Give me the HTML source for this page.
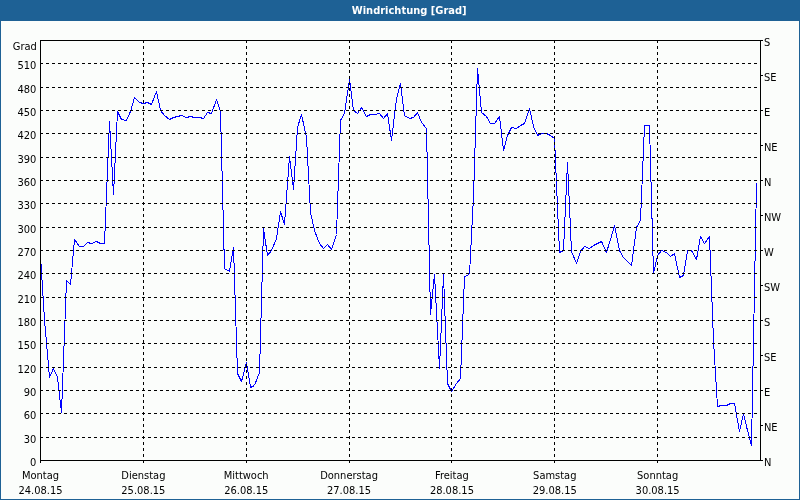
<!DOCTYPE html>
<html><head><meta charset="utf-8"><title>Windrichtung [Grad]</title>
<style>
html,body{margin:0;padding:0;}
body{width:800px;height:500px;overflow:hidden;background:#fbfdfb;position:relative;font-family:"DejaVu Sans Condensed", "Liberation Sans", sans-serif;}
#frame{position:absolute;left:0;top:0;width:798px;height:499px;border-left:1px solid #1e6195;border-right:1px solid #1e6195;border-bottom:1px solid #1e6195;}
#title{position:absolute;left:0;top:0;width:800px;height:20px;background:#1e6195;border-bottom:1px solid #1e6195;}
svg{position:absolute;left:0;top:0;will-change:transform;}
.d{fill:none;stroke:#000;stroke-width:1;stroke-dasharray:3 3;}
.s{fill:none;stroke:#000;stroke-width:1;}
.l{fill:none;stroke:#00f;stroke-width:1;stroke-linejoin:bevel;}
text{font-family:"DejaVu Sans Condensed", "Liberation Sans", sans-serif;font-size:11px;fill:#000;}
.t{font-family:"DejaVu Sans Condensed", "Liberation Sans", sans-serif;font-weight:bold;fill:#fff;font-size:11px;letter-spacing:0px;}
</style></head>
<body>
<div id="frame"></div>
<div id="title"></div>
<svg width="800" height="500" viewBox="0 0 800 500" shape-rendering="crispEdges">
<text class="t" x="409.2" y="14" text-anchor="middle">Windrichtung [Grad]</text>
<polyline points="40.5,256 44.5,320 49.5,377.5 53.5,368.5 57.5,377.5 61.5,412.5 66.5,280.5 70.5,284.5 74.5,239.5 79.5,246.5 83.5,246.5 87.5,242.5 91.5,243.5 96.5,241.5 100.5,243.5 104.5,243.5 109.5,121.5 113.5,194.5 117.5,111.5 121.5,119.5 126.5,120.5 130.5,111.5 134.5,97.5 139.5,102.5 143.5,103.5 147.5,102.5 151.5,104.5 156.5,91.5 160.5,110.5 164.5,115.5 169.5,119.5 173.5,117.5 177.5,116.5 181.5,115.5 186.5,117.5 190.5,116.5 194.5,117.5 199.5,117.5 203.5,118.5 207.5,112.5 211.5,113.5 216.5,99.5 220.5,111.5 224.5,268.5 229.5,271.5 233.5,247.5 237.5,373.5 241.5,381.5 246.5,362.5 250.5,387.5 254.5,385.5 259.5,372.5 263.5,228.5 267.5,255.5 271.5,250.5 276.5,238.5 280.5,211.5 284.5,224.5 289.5,156.5 293.5,189.5 297.5,127.5 301.5,114.5 306.5,137.5 310.5,212.5 314.5,230.5 319.5,243.5 323.5,248.5 327.5,244.5 331.5,249.5 336.5,234.5 340.5,120.5 344.5,113.5 349.5,79.5 353.5,110.5 357.5,113.5 361.5,107.5 366.5,116.5 370.5,114.5 374.5,114.5 379.5,113.5 383.5,118.5 387.5,113.5 391.5,140.5 396.5,98.5 400.5,83.5 404.5,115.5 409.5,118.5 413.5,117.5 417.5,112.5 421.5,122.5 426.5,128.5 430.5,314.5 434.5,274.5 439.5,368.5 443.5,274.5 447.5,383.5 451.5,391.5 456.5,383.5 460.5,378.5 464.5,276.5 469.5,274.5 473.5,196.5 477.5,68.5 481.5,112.5 486.5,116.5 490.5,123.5 494.5,123.5 499.5,116.5 503.5,150.5 507.5,135.5 511.5,127.5 516.5,128.5 520.5,125.5 524.5,123.5 529.5,108.5 533.5,126.5 537.5,135.5 541.5,133.5 546.5,133.5 550.5,135.5 554.5,138.5 559.5,252.5 563.5,250.5 567.5,162.5 571.5,251.5 576.5,263.5 580.5,251.5 584.5,246.5 589.5,248.5 593.5,245.5 597.5,243.5 601.5,241.5 606.5,252.5 610.5,239.5 614.5,225.5 619.5,250.5 623.5,257.5 627.5,261.5 631.5,265.5 636.5,227.5 640.5,220.5 644.5,125.5 649.5,125.5 653.5,273.5 657.5,255.5 661.5,250.5 666.5,252.5 670.5,256.5 674.5,253.5 679.5,277.5 683.5,275.5 687.5,250.5 691.5,250.5 696.5,259.5 700.5,236.5 704.5,243.5 709.5,236.5 713.5,340.5 717.5,406.5 721.5,405.5 726.5,405.5 730.5,403.5 734.5,403.5 739.5,431.5 743.5,413.5 747.5,430.5 751.5,445.5 756.5,183.5" class="l"/>
<path d="M40 437.5H760" class="d"/>
<path d="M40 413.5H760" class="d"/>
<path d="M40 390.5H760" class="d"/>
<path d="M40 367.5H760" class="d"/>
<path d="M40 343.5H760" class="d"/>
<path d="M40 320.5H760" class="d"/>
<path d="M40 297.5H760" class="d"/>
<path d="M40 273.5H760" class="d"/>
<path d="M40 250.5H760" class="d"/>
<path d="M40 227.5H760" class="d"/>
<path d="M40 203.5H760" class="d"/>
<path d="M40 180.5H760" class="d"/>
<path d="M40 157.5H760" class="d"/>
<path d="M40 133.5H760" class="d"/>
<path d="M40 110.5H760" class="d"/>
<path d="M40 87.5H760" class="d"/>
<path d="M40 63.5H760" class="d"/>
<path d="M143.5 40V463" class="d"/>
<path d="M246.5 40V463" class="d"/>
<path d="M349.5 40V463" class="d"/>
<path d="M451.5 40V463" class="d"/>
<path d="M554.5 40V463" class="d"/>
<path d="M657.5 40V463" class="d"/>
<path d="M40.5 40V463M40 40.5H763M760.5 40V460M40 460.5H763" class="s"/>
<path d="M760 460.5H763M760 425.5H763M760 390.5H763M760 355.5H763M760 320.5H763M760 285.5H763M760 250.5H763M760 215.5H763M760 180.5H763M760 145.5H763M760 110.5H763M760 75.5H763M760 40.5H763" class="s"/>
<text x="36.4" y="466" text-anchor="end">0</text>
<text x="36.4" y="443" text-anchor="end">30</text>
<text x="36.4" y="419" text-anchor="end">60</text>
<text x="36.4" y="396" text-anchor="end">90</text>
<text x="36.4" y="373" text-anchor="end">120</text>
<text x="36.4" y="349" text-anchor="end">150</text>
<text x="36.4" y="326" text-anchor="end">180</text>
<text x="36.4" y="303" text-anchor="end">210</text>
<text x="36.4" y="279" text-anchor="end">240</text>
<text x="36.4" y="256" text-anchor="end">270</text>
<text x="36.4" y="233" text-anchor="end">300</text>
<text x="36.4" y="209" text-anchor="end">330</text>
<text x="36.4" y="186" text-anchor="end">360</text>
<text x="36.4" y="163" text-anchor="end">390</text>
<text x="36.4" y="139" text-anchor="end">420</text>
<text x="36.4" y="116" text-anchor="end">450</text>
<text x="36.4" y="93" text-anchor="end">480</text>
<text x="36.4" y="69" text-anchor="end">510</text>
<text x="36.9" y="50" text-anchor="end">Grad</text>
<text x="763.9" y="466">N</text>
<text x="763.9" y="431">NE</text>
<text x="763.9" y="396">E</text>
<text x="763.9" y="361">SE</text>
<text x="763.9" y="326">S</text>
<text x="763.9" y="291">SW</text>
<text x="763.9" y="256">W</text>
<text x="763.9" y="221">NW</text>
<text x="763.9" y="186">N</text>
<text x="763.9" y="151">NE</text>
<text x="763.9" y="116">E</text>
<text x="763.9" y="81">SE</text>
<text x="763.9" y="46">S</text>
<text x="40.50" y="479" text-anchor="middle">Montag</text>
<text x="40.50" y="494" text-anchor="middle">24.08.15</text>
<text x="143.36" y="479" text-anchor="middle">Dienstag</text>
<text x="143.36" y="494" text-anchor="middle">25.08.15</text>
<text x="246.21" y="479" text-anchor="middle">Mittwoch</text>
<text x="246.21" y="494" text-anchor="middle">26.08.15</text>
<text x="349.07" y="479" text-anchor="middle">Donnerstag</text>
<text x="349.07" y="494" text-anchor="middle">27.08.15</text>
<text x="451.93" y="479" text-anchor="middle">Freitag</text>
<text x="451.93" y="494" text-anchor="middle">28.08.15</text>
<text x="554.79" y="479" text-anchor="middle">Samstag</text>
<text x="554.79" y="494" text-anchor="middle">29.08.15</text>
<text x="657.64" y="479" text-anchor="middle">Sonntag</text>
<text x="657.64" y="494" text-anchor="middle">30.08.15</text>
</svg>
</body></html>
